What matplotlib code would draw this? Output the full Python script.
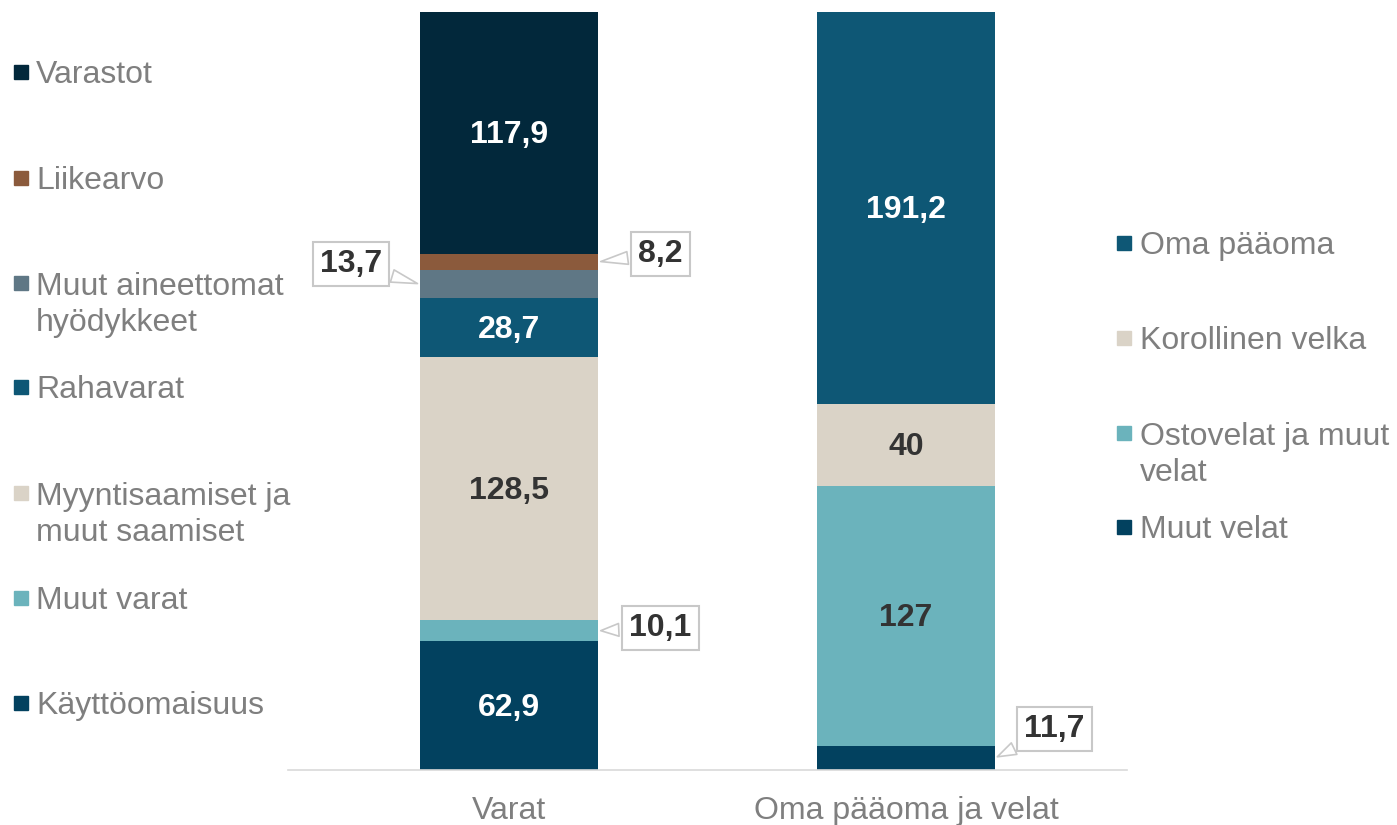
import matplotlib.pyplot as plt
from matplotlib.patches import Rectangle
import numpy as np

plt.rcParams['font.family'] = ['Liberation Sans', 'DejaVu Sans']

# Data
bars = ['Varat', 'Oma pääoma ja velat']

assets_labels = ['Käyttöomaisuus', 'Muut varat', 'Myyntisaamiset ja\nmuut saamiset',
                 'Rahavarat', 'Muut aineettomat\nhyödykkeet', 'Liikearvo', 'Varastot']
assets_values = [62.9, 10.1, 128.5, 28.7, 13.7, 8.2, 117.9]
assets_colors = ['#02415F', '#6BB3BC', '#DAD3C7', '#0E5775', '#5F7785', '#8B5A3C', '#02283B']

liab_labels = ['Muut velat', 'Ostovelat ja muut\nvelat', 'Korollinen velka', 'Oma pääoma']
liab_values = [11.7, 127, 40, 191.2]
liab_colors = ['#02415F', '#6BB3BC', '#DAD3C7', '#0E5775']

grey = '#7F7F7F'
dark = '#333333'
light_segments = ['#DAD3C7', '#6BB3BC']
fs = 23

fig = plt.figure(figsize=(13.97, 8.25), dpi=100)
ax = fig.add_axes([288/1397, 55/825, 839/1397, 758/825])

width = 0.448


def fmt(v):
    s = f'{v:.1f}'.replace('.', ',')
    if s.endswith(',0'):
        s = s[:-2]
    return s


# callout offsets (points) for thin segments: (side, dx, dy)
callouts = {
    (0, 4): ('left', -50, 15),
    (0, 5): ('right', 45, 6),
    (0, 1): ('right', 45, 2),
    (1, 0): ('right', 43, 21),
}

for xi, (vals, cols) in enumerate([(assets_values, assets_colors), (liab_values, liab_colors)]):
    bottom = 0
    for si, (v, c) in enumerate(zip(vals, cols)):
        ax.bar(xi, v, width=width, bottom=bottom, color=c, linewidth=0)
        mid = bottom + v / 2
        if (xi, si) in callouts:
            side, dx, dy = callouts[(xi, si)]
            ex = xi - width / 2 if side == 'left' else xi + width / 2
            ax.annotate(fmt(v), xy=(ex, mid), xytext=(dx, dy), textcoords='offset points',
                        ha='center', va='center', fontsize=fs, fontweight='bold', color=dark,
                        bbox=dict(boxstyle='square,pad=0.22', fc='white', ec='#C8C8C8', lw=1.5),
                        arrowprops=dict(arrowstyle='wedge,tail_width=0.4,shrink_factor=0.5',
                                        fc='white', ec='#C8C8C8', lw=1.2))
        else:
            tc = dark if c in light_segments else 'white'
            ax.text(xi, mid - 1, fmt(v), ha='center', va='center', fontsize=fs,
                    fontweight='bold', color=tc)
        bottom += v

ax.set_xlim(-0.557, 1.557)
ax.set_ylim(0, 370)
ax.set_xticks([0, 1])
ax.set_xticklabels(bars, fontsize=fs, color=grey)
ax.tick_params(axis='x', length=0, pad=19)
ax.set_yticks([])
for sp in ['top', 'left', 'right']:
    ax.spines[sp].set_visible(False)
ax.spines['bottom'].set_color('#D9D9D9')
ax.spines['bottom'].set_linewidth(1.2)


def legend_item(x_mark, x_text, y, lab, col):
    fig.add_artist(Rectangle((x_mark/1397, 1 - (y + 7)/825), 14/1397, 14/825,
                             transform=fig.transFigure, color=col))
    extra = 37 * lab.count('\n')
    fig.text(x_text/1397, 1 - (y + 11 + extra)/825, lab, ha='left', va='baseline',
             fontsize=fs, color=grey, linespacing=1.27)


# left legend (assets), top to bottom
left_y = [72, 178, 283, 387, 493, 598, 703]
for lab, col, y in zip(assets_labels[::-1], assets_colors[::-1], left_y):
    legend_item(14, 36, y, lab, col)

# right legend (liabilities), top to bottom
right_y = [243, 338, 433, 527]
for lab, col, y in zip(liab_labels[::-1], liab_colors[::-1], right_y):
    legend_item(1117, 1140, y, lab, col)

plt.savefig('out.png', dpi=100)
